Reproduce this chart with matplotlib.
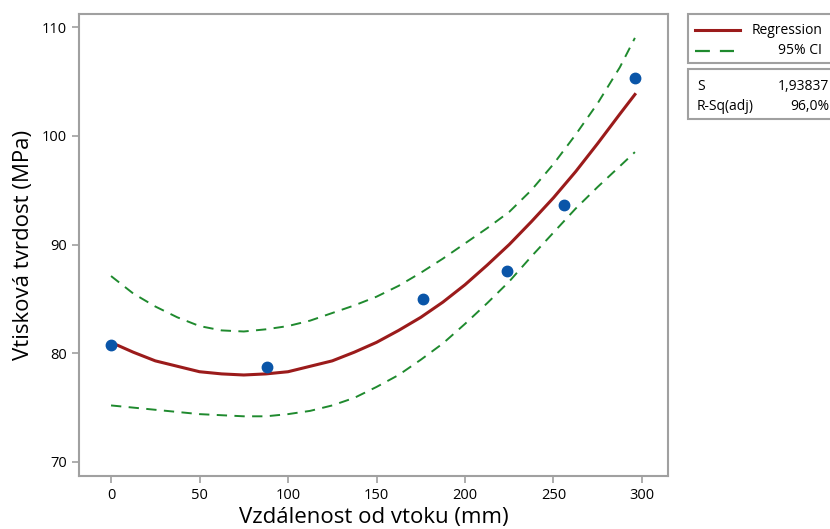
import matplotlib
matplotlib.use("Agg")
import matplotlib.pyplot as plt
from matplotlib.patches import Rectangle
from matplotlib.lines import Line2D

plt.rcParams['font.family'] = ['Open Sans', 'DejaVu Sans']

# naměřené body
vzdalenost = [0, 88, 176, 224, 256, 296]
tvrdost = [80.8, 78.7, 85.0, 87.6, 93.6, 105.3]

# regrese a 95% CI
x_fit = [0, 12.5, 25, 37.5, 50, 62.5, 75, 87.5, 100, 112.5, 125, 137.5, 150,
         162.5, 175, 187.5, 200, 212.5, 225, 237.5, 250, 262.5, 275, 287.5, 296]
regrese = [81.0, 80.1, 79.3, 78.8, 78.3, 78.1, 78.0, 78.1, 78.3, 78.8, 79.3, 80.1, 81.0,
           82.1, 83.3, 84.7, 86.3, 88.1, 90.0, 92.1, 94.3, 96.7, 99.3, 102.0, 103.8]
ci_horni = [87.1, 85.5, 84.3, 83.3, 82.5, 82.1, 82.0, 82.2, 82.5, 83.0, 83.7, 84.4, 85.2,
            86.2, 87.4, 88.7, 90.1, 91.5, 93.0, 95.0, 97.4, 100.1, 103.0, 106.3, 109.0]
ci_dolni = [75.2, 75.0, 74.8, 74.6, 74.4, 74.3, 74.2, 74.2, 74.4, 74.7, 75.2, 75.9, 76.9,
            78.0, 79.4, 80.9, 82.7, 84.6, 86.6, 88.9, 91.1, 93.3, 95.3, 97.2, 98.5]

x_ticks = [0, 50, 100, 150, 200, 250, 300]
y_ticks = [70, 80, 90, 100, 110]

stat_s = "1,93837"
stat_r2 = "96,0%"

cervena = "#9b1b1b"
zelena = "#1f8a2e"
modra = "#0a55a8"
seda = "#a0a0a0"

fig = plt.figure(figsize=(8.3, 5.29), dpi=100)
ax = fig.add_axes([79/830, 1-476/529, (668-79)/830, (476-14)/529])

ax.plot(x_fit, ci_horni, color=zelena, lw=1.4, dashes=(5.3, 3.8))
ax.plot(x_fit, ci_dolni, color=zelena, lw=1.4, dashes=(5.3, 3.8))
ax.plot(x_fit, regrese, color=cervena, lw=2.2)
ax.plot(vzdalenost, tvrdost, 'o', color=modra, ms=7.5, zorder=5)

ax.set_xlim(-18.1, 314.7)
ax.set_ylim(68.71, 111.2)
ax.set_xticks(x_ticks)
ax.set_yticks(y_ticks)
ax.tick_params(colors=seda, labelcolor='black', labelsize=10.5, length=5, width=1.2)
for s in ax.spines.values():
    s.set_color(seda)
    s.set_linewidth(1.5)

ax.set_xlabel("Vzdálenost od vtoku (mm)", fontsize=16, labelpad=3)
ax.set_ylabel("Vtisková tvrdost (MPa)", fontsize=16, labelpad=6)

# legenda a statistiky vpravo
W, H = 830, 529
def fx(px):
    return px / W
def fy(py):
    return 1 - py / H

box1 = Rectangle((fx(688), fy(63)), fx(160), 49/H, transform=fig.transFigure,
                 facecolor='white', edgecolor=seda, lw=1.5, clip_on=False)
box2 = Rectangle((fx(688), fy(119)), fx(160), 50/H, transform=fig.transFigure,
                 facecolor='white', edgecolor=seda, lw=1.5, clip_on=False)
fig.patches.extend([box1, box2])

fig.add_artist(Line2D([fx(695), fx(740)], [fy(30), fy(30)], transform=fig.transFigure,
                      color=cervena, lw=2.2))
fig.add_artist(Line2D([fx(695), fx(734)], [fy(51), fy(51)], transform=fig.transFigure,
                      color=zelena, lw=1.6, dashes=(6.7, 4.5)))
fig.text(fx(822), fy(30), "Regression", ha='right', va='center', fontsize=10)
fig.text(fx(822), fy(50), "95% CI", ha='right', va='center', fontsize=10)
fig.text(fx(697), fy(87), "S", ha='left', va='center', fontsize=10)
fig.text(fx(697), fy(106), "R-Sq(adj)", ha='left', va='center', fontsize=10)
fig.text(fx(829), fy(87), stat_s, ha='right', va='center', fontsize=10)
fig.text(fx(829), fy(106), stat_r2, ha='right', va='center', fontsize=10)

fig.savefig("out.png", dpi=100)
